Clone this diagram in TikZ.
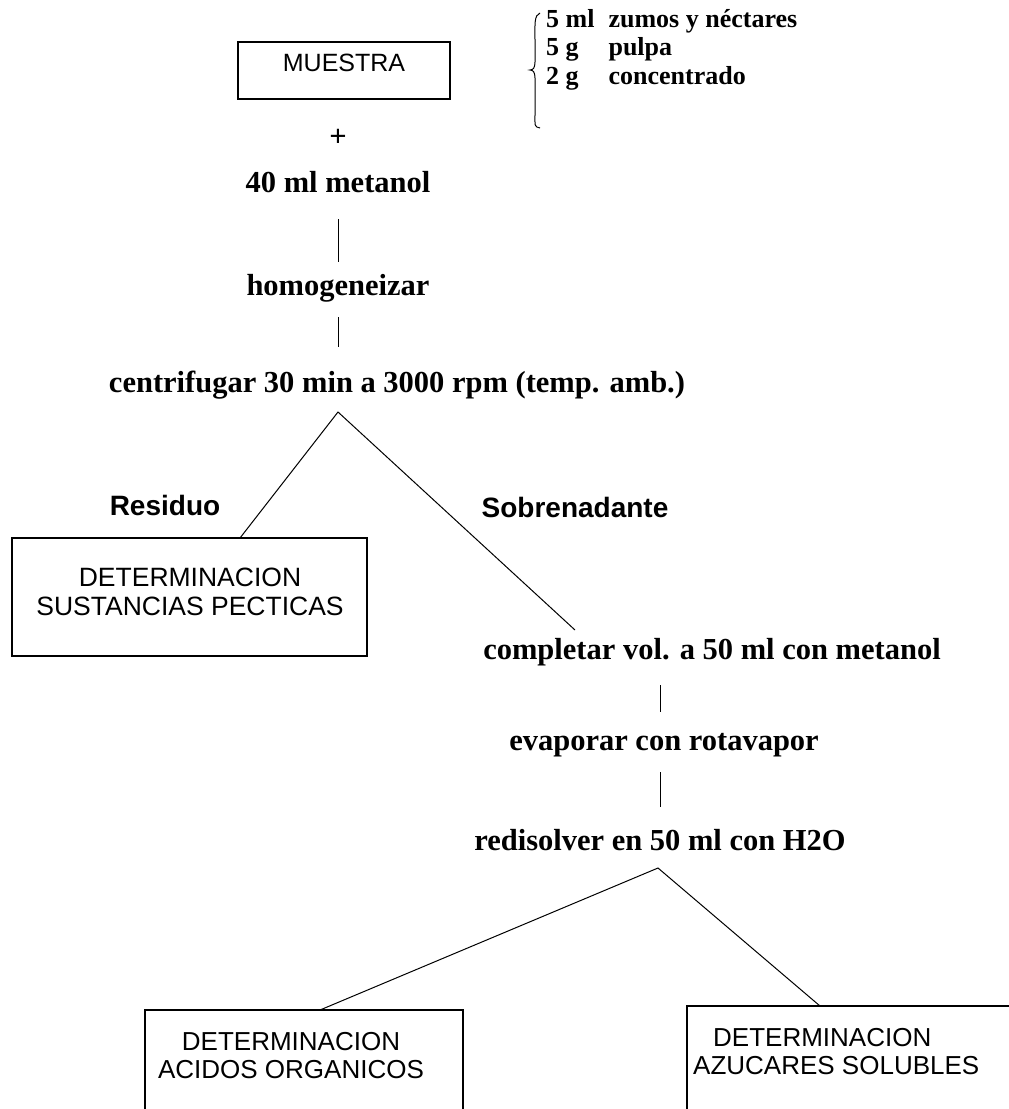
\documentclass[tikz,border=0pt]{standalone}
\usepackage{fontspec}
\setmainfont{Liberation Serif}
\setsansfont{Liberation Sans}
\begin{document}
\begin{tikzpicture}[x=1pt,y=-1pt,
  ser/.style={font=\bfseries\fontsize{30.5}{34}\selectfont, inner sep=0pt},
  boxtxt/.style={font=\sffamily\fontsize{26.5}{29}\selectfont, inner sep=0pt},
  btxt/.style={font=\sffamily\fontsize{26}{28}\selectfont, inner sep=0pt},
  lbl/.style={font=\sffamily\bfseries\fontsize{28}{30}\selectfont, inner sep=0pt},
  ln/.style={line width=1pt, black},
  bx/.style={line width=1.1pt, black}]
\useasboundingbox (0,0) rectangle (1009,1109);

% top box
\node[bx, draw, minimum width=212pt, minimum height=57pt, inner sep=0pt] (muestra) at (344,70.5) {};
\node[boxtxt, font=\sffamily\fontsize{25}{28}\selectfont] (muestratxt) at (344,63) {MUESTRA};

% brace and list
\draw[ln] (540,13) .. controls (534,15) and (535,25) .. (535,40) -- (535,62)
  .. controls (535,68) and (533,70) .. (530,70)
  .. controls (533,70) and (535,72) .. (535,78) -- (535,115)
  .. controls (535,125) and (534,127) .. (540,128);
\node[ser, anchor=north west, font=\bfseries\fontsize{26}{28.5}\selectfont] (list) at (546,7)
  {\begin{tabular}{@{}l@{\hspace{14pt}}l@{}}5 ml & zumos y néctares\\ 5 g & pulpa\\ 2 g & concentrado\end{tabular}};

\node[ser] (plus) at (338,138) {+};
\node[ser] (metanol) at (338,182) {40 ml metanol};
\node[ser] (homog) at (338,288) {homogeneizar};
\node[ser] (centri) at (397,385) {centrifugar 30 min a 3000 rpm (temp. amb.)};

\draw[ln] (338,219) -- (338,262);
\draw[ln] (338,317) -- (338,347);

% split 1
\coordinate (ap1) at (338,412);
\coordinate (e1) at (240,538);
\coordinate (e2) at (575,630);
\draw[ln] (e1) -- (ap1) -- (e2);

\node[lbl] (residuo) at (165,505) {Residuo};
\node[lbl] (sobre) at (575,507) {Sobrenadante};

\node[bx, draw, minimum width=355pt, minimum height=118pt, inner sep=0pt] (pect) at (189.5,597) {};
\node[boxtxt] (pect1) at (190,577) {DETERMINACION};
\node[boxtxt] (pect2) at (190,606) {SUSTANCIAS PECTICAS};

\node[ser] (compl) at (712,652) {completar vol. a 50 ml con metanol};
\node[ser] (evap) at (664,745) {evaporar con rotavapor};
\node[ser] (redis) at (660,840) {redisolver en 50 ml con H2O};
\draw[ln] (660,685) -- (660,712);
\draw[ln] (660,772) -- (660,807);

% split 2
\coordinate (ap2) at (658,868);
\coordinate (e3) at (320,1010);
\coordinate (e4) at (820,1006);
\draw[ln] (e3) -- (ap2) -- (e4);

% bottom boxes (open at the bottom)
\draw[bx] (145,1112) -- (145,1010) -- (463,1010) -- (463,1112);
\draw[bx] (687,1112) -- (687,1006) -- (1012,1006);
\node[btxt] (acid1) at (291,1042) {DETERMINACION};
\node[btxt] (acid2) at (291,1070) {ACIDOS ORGANICOS};
\node[btxt, anchor=west] (azuc1) at (713,1038) {DETERMINACION};
\node[btxt, anchor=west] (azuc2) at (693,1066) {AZUCARES SOLUBLES};
\end{tikzpicture}
\end{document}
